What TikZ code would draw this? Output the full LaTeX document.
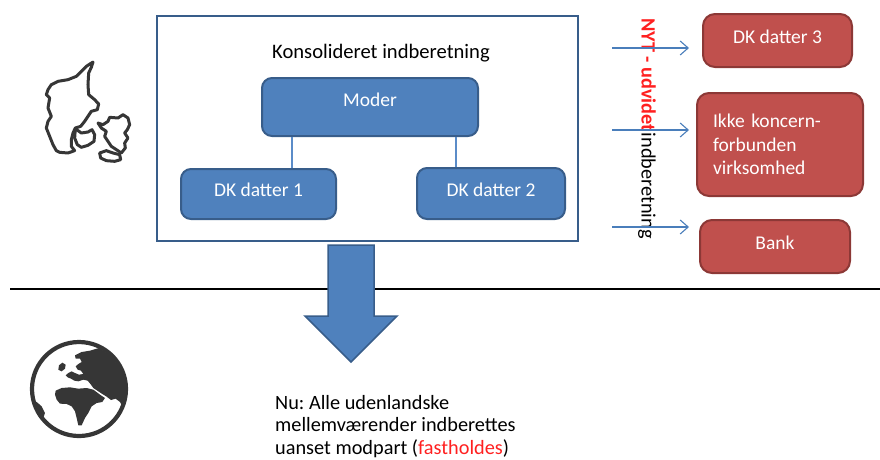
\documentclass[tikz,border=0pt]{standalone}
\usepackage{fontspec}
\setmainfont{Carlito}
\usetikzlibrary{arrows.meta}
\frenchspacing
\definecolor{boxblue}{HTML}{4F81BD}
\definecolor{boxblueline}{HTML}{385D8A}
\definecolor{boxred}{HTML}{C0504D}
\definecolor{boxredline}{HTML}{8C3836}
\definecolor{arrblue}{HTML}{4A7EBB}
\definecolor{connblue}{HTML}{5B8CC8}
\definecolor{iconGrey}{HTML}{363636}
\definecolor{txtred}{HTML}{FF2020}
\tikzset{
  bluebox/.style={draw=boxblueline, fill=boxblue, line width=2pt, rounded corners=10pt,
    text=white, font=\fontsize{19.5}{23}\selectfont, inner sep=0pt, text height=14pt, text depth=9pt},
  redbox/.style={draw=boxredline, fill=boxred, line width=2pt, rounded corners=12pt,
    text=white, font=\fontsize{19.5}{23.5}\selectfont, inner sep=0pt, text height=14pt, text depth=9pt},
  frame/.style={draw=boxblueline, line width=2.5pt, inner sep=0pt},
  arr/.style={draw=arrblue, line width=1.1pt, -{Straight Barb[length=8pt,width=14pt]}},
  conn/.style={draw=connblue, line width=1.3pt},
  txt/.style={font=\fontsize{20.3}{22.5}\selectfont, inner sep=0pt},
  maplinestyle/.style={draw=iconGrey, line width=3pt, line join=round, line cap=round},
  landstyle/.style={fill=iconGrey}
}
\begin{document}
\begin{tikzpicture}[x=1pt,y=-1pt]
\useasboundingbox (0,0) rectangle (880,459);

% consolidated frame
\node[frame, minimum width=421pt, minimum height=225pt] (frame) at (367.5,128.5) {};
\node[txt, font=\fontsize{20.6}{23.5}\selectfont] (kons) at (381,53) {Konsolideret indberetning};
\node[bluebox, minimum width=216pt, minimum height=58pt, text depth=15.5pt] (moder) at (370,107) {Moder};
\node[bluebox, minimum width=155pt, minimum height=50pt] (dk1) at (258.5,194) {DK datter 1};
\node[bluebox, minimum width=148pt, minimum height=51pt] (dk2) at (491,193.5) {DK datter 2};
\coordinate (c1) at (292,0);
\coordinate (c2) at (456,0);
\draw[conn] (moder.south -| c1) -- (dk1.north -| c1);
\draw[conn] (moder.south -| c2) -- (dk2.north -| c2);

% red boxes
\node[redbox, minimum width=149pt, minimum height=53pt] (dk3) at (777.5,40.5) {DK datter 3};
\node[redbox, minimum width=166pt, minimum height=103pt, text width=134pt, inner xsep=16pt, align=left, text height=, text depth=] (ikke) at (780,144.5) {Ikke koncern-\\forbunden\\virksomhed};
\node[redbox, minimum width=150pt, minimum height=53pt] (bank) at (775,246.5) {Bank};

% vertical label
\node[txt, rotate=-90, anchor=west] (nyt) at (647,18) {\textbf{\color{txtred}NYT - udvidet}\kern1pt indberetning};

% arrows
\coordinate (a1) at (612,48);
\coordinate (a2) at (612,130);
\coordinate (a3) at (612,227);
\draw[arr, shorten >=13pt] (a1) -- (a1 -| dk3.west);
\draw[arr, shorten >=7pt] (a2) -- (a2 -| ikke.west);
\draw[arr, shorten >=10pt] (a3) -- (a3 -| bank.west);

% horizontal divider
\draw[line width=2.8pt, black] (10,289) -- (880,289);

% big arrow
\draw[fill=boxblue, draw=boxblueline, line width=1.5pt, line join=miter]
  (328,245) -- (374,245) -- (374,316) -- (397,316) -- (351,362) -- (305,316) -- (328,316) -- cycle;

% bottom text
\node[txt, anchor=north west, align=left] (nu) at (275,395) {Nu: Alle udenlandske\\mellemværender indberettes\\uanset modpart (\textcolor{txtred}{fastholdes})};

% Denmark map
\begin{scope}[shift={(38,58)}, x=0.3333pt, y=-0.3333pt]
\draw[maplinestyle] (165,12) -- (160,28) -- (152,45) -- (150,80) -- (152,110) -- (170,125) -- (182,138) -- (178,155) -- (160,160) -- (150,175) -- (140,190) -- (128,205) -- (112,210) -- (105,225) -- (100,245) -- (100,265) -- (110,278) -- (90,285) -- (65,283) -- (55,278) -- (45,260) -- (35,235) -- (25,210) -- (30,190) -- (40,175) -- (30,150) -- (35,120) -- (25,110) -- (30,95) -- (40,80) -- (60,70) -- (90,65) -- (115,55) -- (130,40) -- (145,25) -- cycle;
\draw[maplinestyle] (112,212) -- (130,225) -- (150,222) -- (162,215) -- (170,230) -- (168,250) -- (150,262) -- (130,268) -- (118,260) -- (110,240) -- cycle;
\draw[maplinestyle] (180,195) -- (195,200) -- (210,190) -- (215,178) -- (240,180) -- (255,170) -- (270,180) -- (275,200) -- (268,215) -- (260,225) -- (270,240) -- (260,255) -- (262,270) -- (250,285) -- (235,275) -- (220,265) -- (210,250) -- (200,235) -- (205,220) -- (190,210) -- cycle;
\draw[maplinestyle] (185,285) -- (205,278) -- (225,285) -- (245,290) -- (248,305) -- (230,310) -- (205,308) -- (188,300) -- cycle;
\end{scope}

% globe
\draw[draw=iconGrey, line width=4.2pt] (79,389) circle (47);
\begin{scope}
\clip (79,389) circle (45.5);
\begin{scope}[shift={(25,338)}, x=0.3333pt, y=-0.3333pt]
\fill[landstyle] (150,52) -- (170,42) -- (195,38) -- (215,32) -- (260,20) -- (340,60) -- (340,170) -- (310,200) -- (300,215) -- (292,205) -- (285,192) -- (272,182) -- (258,186) -- (245,176) -- (232,168) -- (220,160) -- (205,150) -- (198,140) -- (188,128) -- (175,125) -- (160,130) -- (148,128) -- (138,122) -- (128,118) -- (122,112) -- (130,105) -- (140,100) -- (150,105) -- (162,110) -- (175,108) -- (168,98) -- (158,95) -- (152,85) -- (160,78) -- (170,72) -- (165,62) -- (152,62) -- cycle;
\fill[landstyle] (102,82) -- (112,74) -- (122,80) -- (120,92) -- (110,100) -- (100,95) -- cycle;
\fill[landstyle] (92,158) -- (110,150) -- (135,148) -- (160,152) -- (185,150) -- (205,155) -- (225,170) -- (240,180) -- (232,192) -- (215,195) -- (200,205) -- (190,225) -- (180,240) -- (170,262) -- (160,262) -- (155,240) -- (150,220) -- (140,205) -- (125,198) -- (105,197) -- (95,185) -- (90,170) -- cycle;
\fill[landstyle] (5,190) -- (35,192) -- (50,205) -- (60,225) -- (55,240) -- (40,235) -- (25,220) -- (5,210) -- cycle;
\end{scope}
\end{scope}
\end{tikzpicture}
\end{document}
